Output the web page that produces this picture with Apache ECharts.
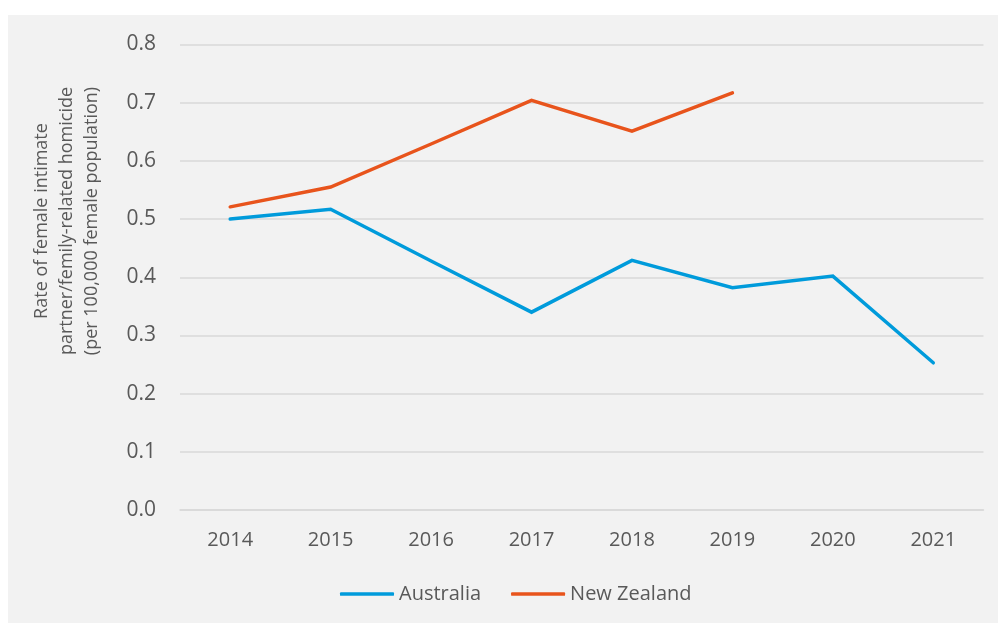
<!DOCTYPE html>
<html>
<head>
<meta charset="utf-8">
<script src="https://cdn.jsdelivr.net/npm/echarts@6/dist/echarts.min.js"></script>
<style>
  html, body { margin: 0; padding: 0; background: #ffffff; width: 998px; height: 623px; overflow: hidden; }
  #chart { position: absolute; left: 8px; top: 15px; width: 990px; height: 608px; background: #f2f2f2; }
</style>
</head>
<body>
<div id="chart"></div>
<script>
const years = ['2014', '2015', '2016', '2017', '2018', '2019', '2020', '2021'];
const australia = [0.500, 0.517, 0.428, 0.340, 0.429, 0.382, 0.402, 0.253];
const newZealand = [0.521, 0.555, 0.629, 0.704, 0.651, 0.717, null, null];
const yTicks = { min: 0, max: 0.8, interval: 0.1 };
const yTitle = 'Rate of female intimate\npartner/femily-related homicide\n(per 100,000 female population)';

const FONT = '"Open Sans", sans-serif';
const TXT = '#595959';

const chart = echarts.init(document.getElementById('chart'), null, { renderer: 'canvas' });
chart.setOption({
  backgroundColor: '#f2f2f2',
  animation: false,
  textStyle: { fontFamily: FONT, color: TXT },
  grid: { left: 172, right: 14.5, top: 29.5, bottom: 113, containLabel: false },
  legend: {
    left: 327,
    top: 564,
    itemWidth: 54,
    itemHeight: 3.5,
    itemGap: 30,
    icon: 'roundRect',
    textStyle: { fontFamily: FONT, fontSize: 20, color: TXT },
    data: [
      { name: 'Australia', itemStyle: { color: '#009BDB' } },
      { name: 'New Zealand', itemStyle: { color: '#E8541C' } }
    ]
  },
  graphic: [{
    type: 'text',
    x: 58.7,
    y: 206,
    rotation: Math.PI / 2,
    style: {
      text: yTitle,
      fontFamily: FONT,
      fontSize: 18,
      lineHeight: 25,
      fill: TXT,
      align: 'center',
      verticalAlign: 'middle'
    }
  }],
  xAxis: {
    type: 'category',
    data: years,
    boundaryGap: true,
    axisLine: { show: true, lineStyle: { color: '#d9d9d9', width: 1.5 } },
    axisTick: { show: false },
    axisLabel: { fontFamily: FONT, fontSize: 20, color: TXT, margin: 20 },
    splitLine: { show: false }
  },
  yAxis: {
    type: 'value',
    min: yTicks.min,
    max: yTicks.max,
    interval: yTicks.interval,
    axisLine: { show: false },
    axisTick: { show: false },
    axisLabel: {
      fontFamily: FONT, fontSize: 21, color: TXT, margin: 24,
      formatter: v => v.toFixed(1)
    },
    splitLine: { show: true, lineStyle: { color: '#d9d9d9', width: 1.5 } }
  },
  series: [
    {
      name: 'Australia',
      type: 'line',
      data: australia,
      symbol: 'none',
      showSymbol: false,
      connectNulls: false,
      lineStyle: { color: '#009BDB', width: 3.5, cap: 'round', join: 'miter' },
      itemStyle: { color: '#009BDB' }
    },
    {
      name: 'New Zealand',
      type: 'line',
      data: newZealand,
      symbol: 'none',
      showSymbol: false,
      connectNulls: false,
      lineStyle: { color: '#E8541C', width: 3.5, cap: 'round', join: 'miter' },
      itemStyle: { color: '#E8541C' }
    }
  ]
});
</script>
</body>
</html>
